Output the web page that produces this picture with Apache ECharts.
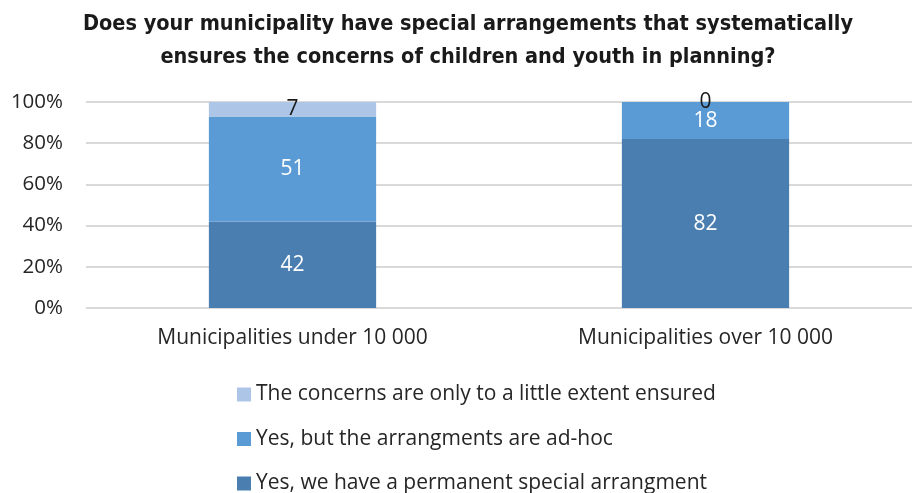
<!DOCTYPE html>
<html><head><meta charset="utf-8">
<script src="https://cdn.jsdelivr.net/npm/echarts@6/dist/echarts.min.js"></script>
<style>html,body{margin:0;padding:0;background:#fff}#c{width:912px;height:493px}</style>
</head><body><div id="c"></div>
<script>
const categories = ['Municipalities under 10 000', 'Municipalities over 10 000'];
const seriesNames = ['Yes, we have a permanent special arrangment', 'Yes, but the arrangments are ad-hoc', 'The concerns are only to a little extent ensured'];
const permanent = [42, 82];
const adhoc = [51, 18];
const little = [7, 0];
const yTicks = [0, 20, 40, 60, 80, 100];
const titleText = 'Does your municipality have special arrangements that systematically\nensures the concerns of children and youth in planning?';

const colors = ['#4a7eb0', '#5b9bd5', '#adc5e7'];
const labelColors = ['#ffffff', '#ffffff', '#1a1a1a'];
const font = 'Open Sans';
const values = [permanent, adhoc, little];

const chart = echarts.init(document.getElementById('c'));
chart.setOption({
  animation: false,
  title: {
    text: titleText, left: 463, top: 3, textAlign: 'center',
    textStyle: {fontFamily: 'DejaVu Sans Condensed', fontWeight: 'bold', fontSize: 21.5, lineHeight: 33, color: '#1a1a1a'}
  },
  legend: {
    orient: 'vertical', left: 232, top: 379, height: 200, itemGap: 23.5, itemWidth: 14, itemHeight: 14,
    icon: 'rect',
    data: [seriesNames[2], seriesNames[1], seriesNames[0]],
    textStyle: {fontFamily: font, fontSize: 21, color: '#262626'}
  },
  grid: {left: 86, right: -10, top: 102, bottom: 185, containLabel: false},
  xAxis: {
    type: 'category', data: categories,
    axisLine: {show: false}, axisTick: {show: false},
    axisLabel: {fontFamily: font, fontSize: 21, color: '#262626', margin: 20}
  },
  yAxis: {
    type: 'value', min: 0, max: 100, interval: 20,
    axisLine: {show: false}, axisTick: {show: false},
    splitLine: {lineStyle: {color: '#d9d9d9', width: 2}},
    axisLabel: {fontFamily: font, fontSize: 20.5, color: '#262626', margin: 23,
      formatter: v => yTicks.includes(v) ? v + '%' : ''}
  },
  series: values.map((vals, i) => ({
    name: seriesNames[i], type: 'bar', stack: 'total', barWidth: '40.5%',
    data: vals,
    itemStyle: {color: colors[i]},
    label: {show: true, position: 'inside', fontFamily: font, fontSize: 21, color: labelColors[i]}
  }))
});
</script></body></html>
